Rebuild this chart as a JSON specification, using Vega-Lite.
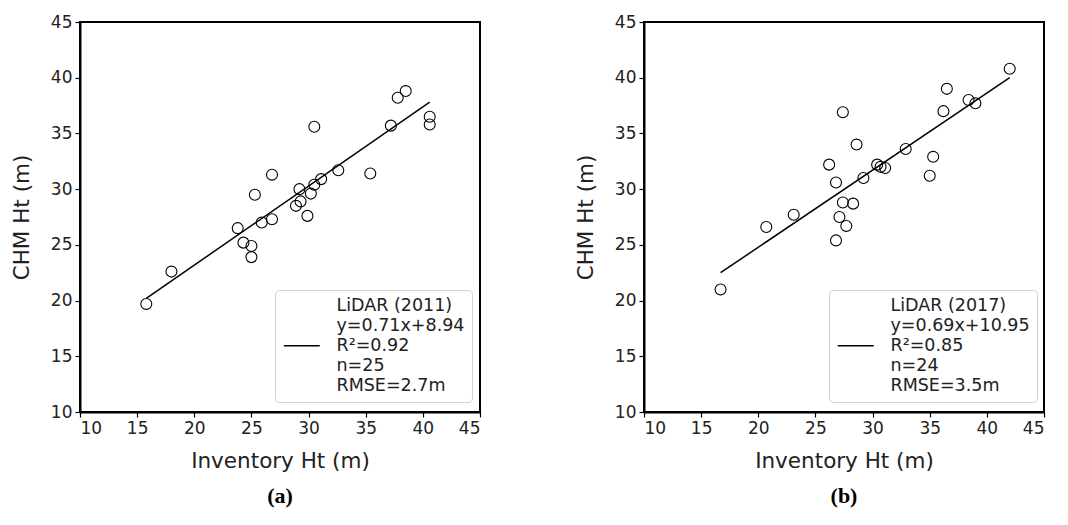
{
  "$schema": "https://vega.github.io/schema/vega-lite/v6.json",
  "background": "white",
  "padding": {"left": 10, "top": 12, "right": 5, "bottom": 5},
  "datasets": {
    "a_pts": [
      {"inv": 15.8, "chm": 19.7}, {"inv": 18.0, "chm": 22.6}, {"inv": 23.8, "chm": 26.5},
      {"inv": 24.3, "chm": 25.2}, {"inv": 25.0, "chm": 24.9}, {"inv": 25.0, "chm": 23.9},
      {"inv": 25.3, "chm": 29.5}, {"inv": 25.9, "chm": 27.0}, {"inv": 26.8, "chm": 27.3},
      {"inv": 26.8, "chm": 31.3}, {"inv": 28.9, "chm": 28.5}, {"inv": 29.3, "chm": 28.9},
      {"inv": 29.2, "chm": 30.0}, {"inv": 29.9, "chm": 27.6}, {"inv": 30.2, "chm": 29.6},
      {"inv": 30.5, "chm": 30.4}, {"inv": 31.1, "chm": 30.9}, {"inv": 30.5, "chm": 35.6},
      {"inv": 32.6, "chm": 31.7}, {"inv": 35.4, "chm": 31.4}, {"inv": 37.2, "chm": 35.7},
      {"inv": 37.8, "chm": 38.2}, {"inv": 38.5, "chm": 38.8}, {"inv": 40.6, "chm": 36.5},
      {"inv": 40.6, "chm": 35.8}
    ],
    "a_fit": [
      {"inv": 15.8, "chm": 20.2, "label": "LiDAR (2011)|y=0.71x+8.94|R²=0.92|n=25|RMSE=2.7m"},
      {"inv": 40.6, "chm": 37.8, "label": "LiDAR (2011)|y=0.71x+8.94|R²=0.92|n=25|RMSE=2.7m"}
    ],
    "b_pts": [
      {"inv": 16.7, "chm": 21.0}, {"inv": 20.7, "chm": 26.6}, {"inv": 23.1, "chm": 27.7},
      {"inv": 26.2, "chm": 32.2}, {"inv": 26.8, "chm": 30.6}, {"inv": 26.8, "chm": 25.4},
      {"inv": 27.1, "chm": 27.5}, {"inv": 27.4, "chm": 28.8}, {"inv": 27.7, "chm": 26.7},
      {"inv": 27.4, "chm": 36.9}, {"inv": 28.6, "chm": 34.0}, {"inv": 28.3, "chm": 28.7},
      {"inv": 29.2, "chm": 31.0}, {"inv": 30.4, "chm": 32.2}, {"inv": 30.7, "chm": 32.0},
      {"inv": 31.1, "chm": 31.9}, {"inv": 32.9, "chm": 33.6}, {"inv": 35.0, "chm": 31.2},
      {"inv": 35.3, "chm": 32.9}, {"inv": 36.2, "chm": 37.0}, {"inv": 36.5, "chm": 39.0},
      {"inv": 38.4, "chm": 38.0}, {"inv": 39.0, "chm": 37.7}, {"inv": 42.0, "chm": 40.8}
    ],
    "b_fit": [
      {"inv": 16.7, "chm": 22.5, "label": "LiDAR (2017)|y=0.69x+10.95|R²=0.85|n=24|RMSE=3.5m"},
      {"inv": 42.0, "chm": 40.0, "label": "LiDAR (2017)|y=0.69x+10.95|R²=0.85|n=24|RMSE=3.5m"}
    ]
  },
  "spacing": 92,
  "resolve": {"scale": {"stroke": "independent"}, "legend": {"stroke": "independent"}},
  "hconcat": [
    {
      "width": 400,
      "height": 390,
      "title": {"text": "(a)", "orient": "bottom", "anchor": "middle", "frame": "group", "font": "Liberation Serif", "fontSize": 22, "fontWeight": "bold", "color": "black", "offset": 14},
      "layer": [
        {
          "data": {"name": "a_pts"},
          "mark": {"type": "point", "shape": "circle", "filled": false, "stroke": "black", "strokeWidth": 1.1, "size": 120, "opacity": 1},
          "encoding": {
            "x": {"field": "inv", "type": "quantitative", "scale": {"domain": [10, 45], "nice": false, "zero": false}, "axis": {"title": "Inventory Ht (m)", "values": [10, 15, 20, 25, 30, 35, 40, 45], "titlePadding": 14}},
            "y": {"field": "chm", "type": "quantitative", "scale": {"domain": [10, 45], "nice": false, "zero": false}, "axis": {"title": "CHM Ht (m)", "values": [10, 15, 20, 25, 30, 35, 40, 45], "titlePadding": 17}}
          }
        },
        {
          "data": {"name": "a_fit"},
          "mark": {"type": "line", "strokeWidth": 1.5},
          "encoding": {
            "x": {"field": "inv", "type": "quantitative"},
            "y": {"field": "chm", "type": "quantitative"},
            "stroke": {"field": "label", "type": "nominal", "scale": {"range": ["black"]}, "legend": {"legendX": 195, "legendY": 268, "labelExpr": "split(datum.label, '|')", "encode": {"labels": {"update": {"lineHeight": {"value": 20}}}}}}
          }
        }
      ]
    },
    {
      "width": 400,
      "height": 390,
      "title": {"text": "(b)", "orient": "bottom", "anchor": "middle", "frame": "group", "font": "Liberation Serif", "fontSize": 22, "fontWeight": "bold", "color": "black", "offset": 14},
      "layer": [
        {
          "data": {"name": "b_pts"},
          "mark": {"type": "point", "shape": "circle", "filled": false, "stroke": "black", "strokeWidth": 1.1, "size": 120, "opacity": 1},
          "encoding": {
            "x": {"field": "inv", "type": "quantitative", "scale": {"domain": [10, 45], "nice": false, "zero": false}, "axis": {"title": "Inventory Ht (m)", "values": [10, 15, 20, 25, 30, 35, 40, 45], "titlePadding": 14}},
            "y": {"field": "chm", "type": "quantitative", "scale": {"domain": [10, 45], "nice": false, "zero": false}, "axis": {"title": "CHM Ht (m)", "values": [10, 15, 20, 25, 30, 35, 40, 45], "titlePadding": 17}}
          }
        },
        {
          "data": {"name": "b_fit"},
          "mark": {"type": "line", "strokeWidth": 1.5},
          "encoding": {
            "x": {"field": "inv", "type": "quantitative"},
            "y": {"field": "chm", "type": "quantitative"},
            "stroke": {"field": "label", "type": "nominal", "scale": {"range": ["black"]}, "legend": {"legendX": 185, "legendY": 268, "labelExpr": "split(datum.label, '|')", "encode": {"labels": {"update": {"lineHeight": {"value": 20}}}}}}
          }
        }
      ]
    }
  ],
  "config": {
    "view": {"stroke": "black", "strokeWidth": 2},
    "axis": {
      "grid": false,
      "domainColor": "black",
      "domainWidth": 2,
      "tickColor": "black",
      "tickWidth": 1.2,
      "tickSize": 5,
      "labelFont": "DejaVu Sans",
      "labelFontSize": 17,
      "labelColor": "#222",
      "labelPadding": 3,
      "titleFont": "DejaVu Sans",
      "titleFontSize": 21.5,
      "titleFontWeight": "normal",
      "titleColor": "#222"
    },
    "legend": {
      "title": null,
      "orient": "none",
      "symbolType": "M-1,5.71H4.14",
      "symbolSize": 196,
      "symbolStrokeWidth": 1.5,
      "symbolStrokeColor": "black",
      "labelFont": "DejaVu Sans",
      "labelFontSize": 17.5,
      "labelColor": "#222",
      "labelLimit": 0,
      "labelOffset": 37,
      "fillColor": "white",
      "strokeColor": "#d0d0d0",
      "cornerRadius": 4,
      "padding": 7
    }
  }
}
